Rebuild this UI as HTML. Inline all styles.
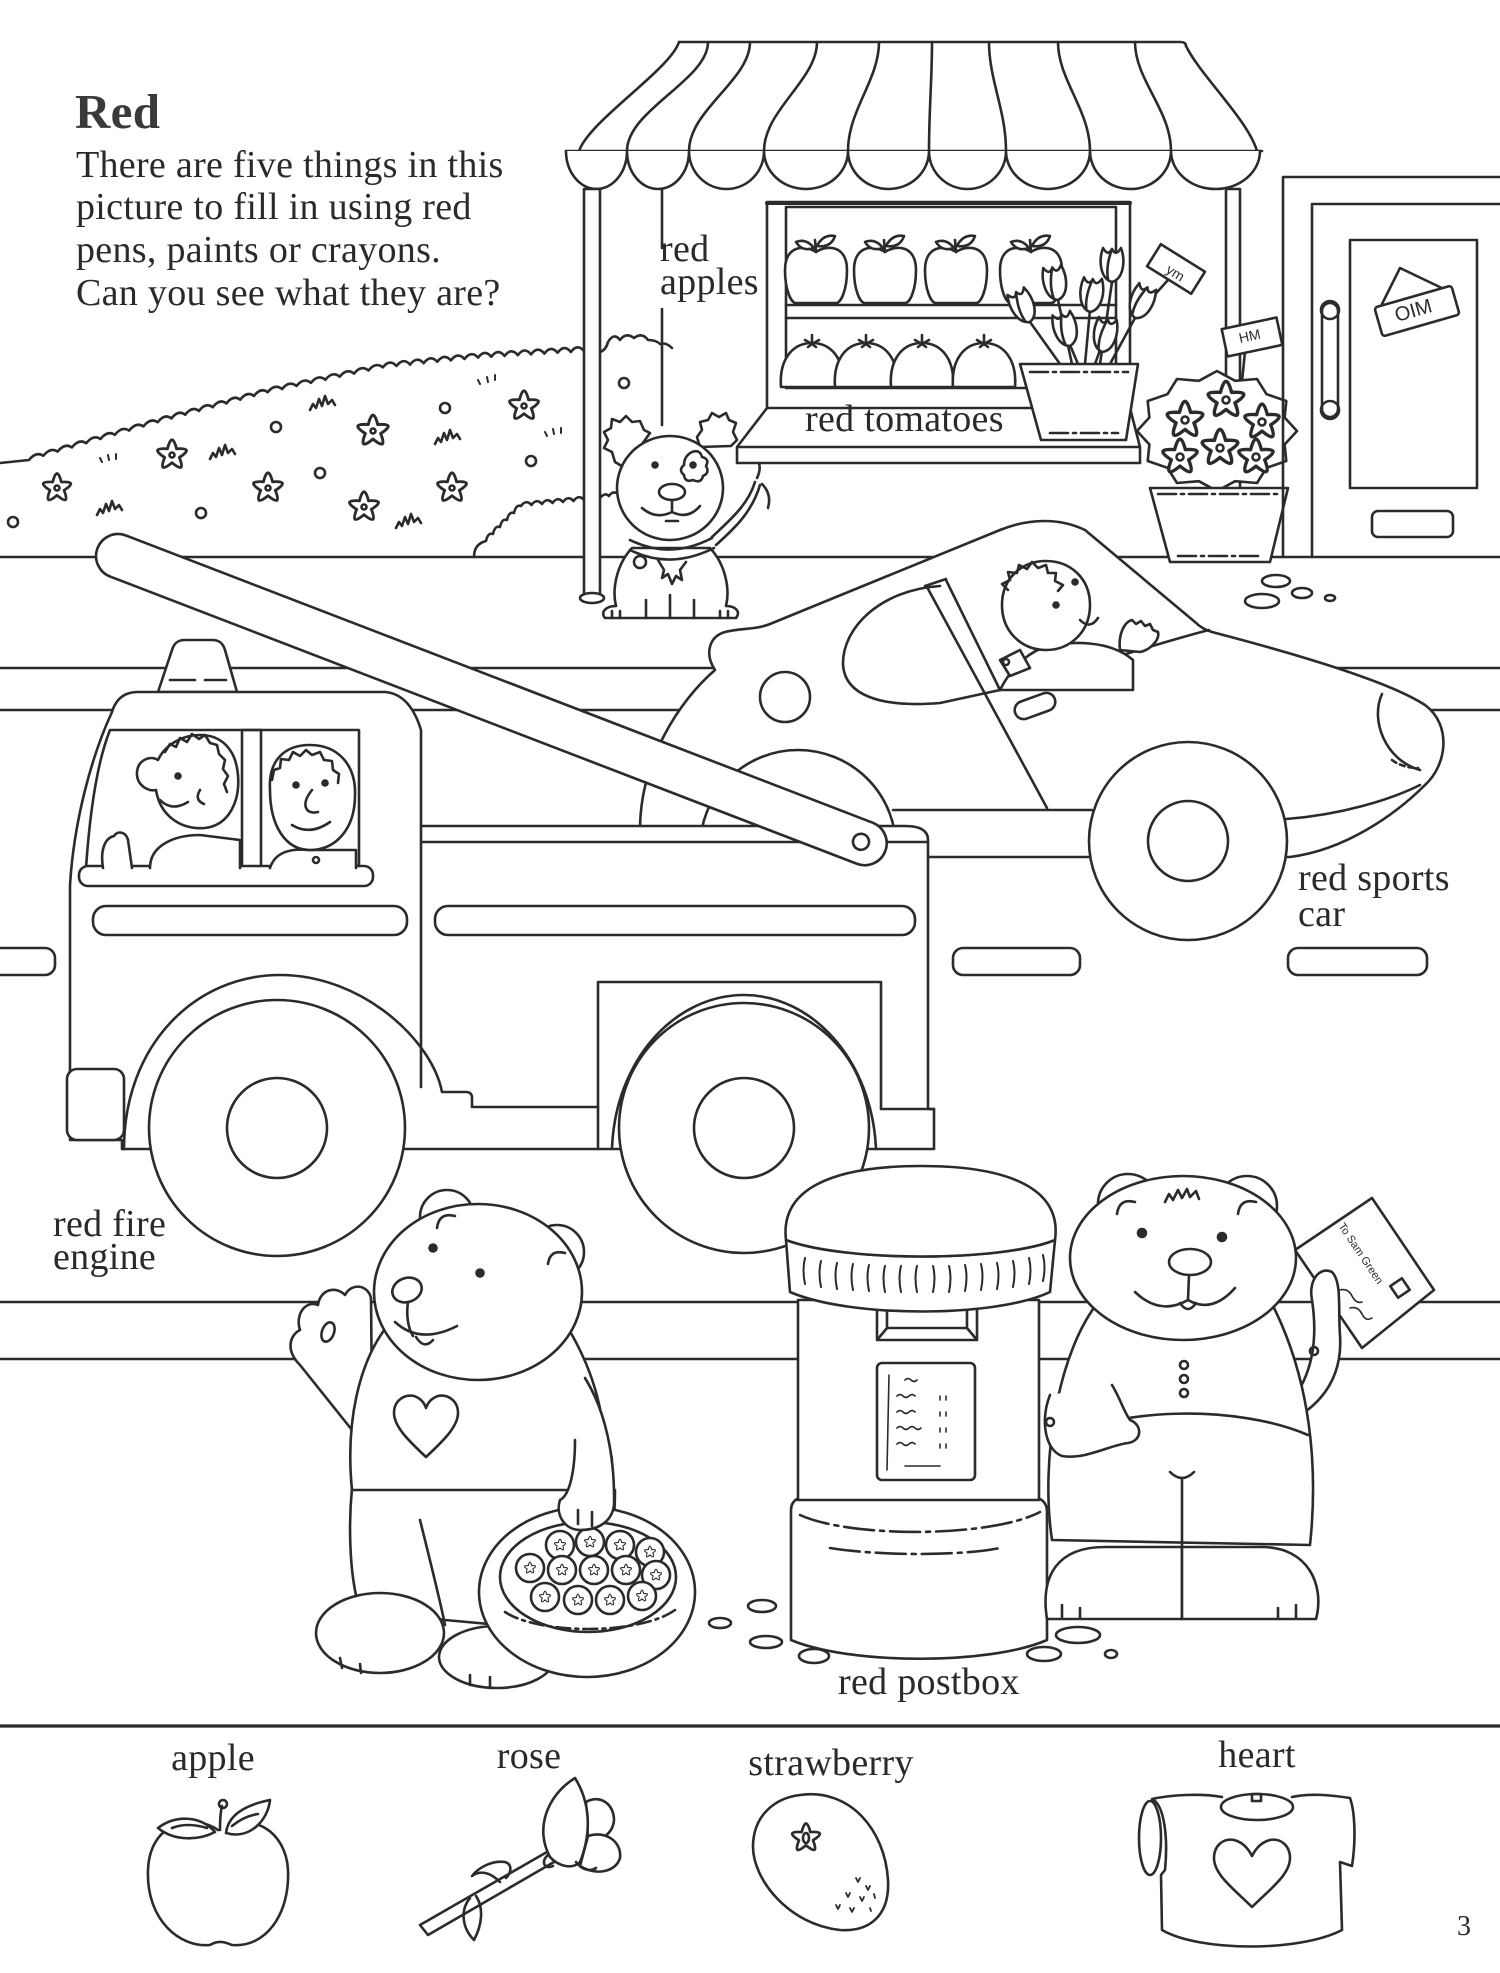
<!DOCTYPE html>
<html><head><meta charset="utf-8">
<style>
html,body{margin:0;padding:0;background:#fff;}
svg{display:block;}
.t{font-family:"Liberation Serif",serif;fill:#2a2a2a;font-size:38px;letter-spacing:0.3px;}
</style></head><body>
<svg width="1500" height="1973" viewBox="0 0 1500 1973" xmlns="http://www.w3.org/2000/svg">
<rect width="1500" height="1973" fill="#fff"/>
<defs>
<path id="fl" d="M4.11,-5.66 Q20.9,-6.8 6.66,2.16 Q12.9,17.8 0,7 Q-12.9,17.8 -6.66,2.16 Q-20.9,-6.8 -4.11,-5.66 Q0,-22 4.11,-5.66 Z"/>
<path id="tu" d="M0,0 C-11,-3 -14,-20 -9,-34 C-6,-29 -3,-27 0,-33 C3,-27 6,-29 9,-34 C14,-20 11,-3 0,0 Z M-4,-3 C-6,-14 -3,-25 0,-33"/>
<path id="gr" d="M-15,4 l3,-6 l3,4 l3,-9 l3,7 l3,-10 l3,8 l4,-4 l3,5"/>
<g id="ap"><path d="M0,-51 C-12,-59 -31,-57 -31,-33 C-31,-13 -25,0 -20,0 L20,0 C25,0 31,-13 31,-33 C31,-57 12,-59 0,-51 Z" fill="#fff"/><path d="M0,-51 L-1,-63 M1,-57 Q7,-69 19,-67 Q15,-55 1,-57 Z M-2,-55 Q-10,-65 -20,-61 Q-14,-51 -2,-55 Z" fill="#fff"/></g>
<g id="to"><path d="M-31,0 C-33,-27 -20,-44 0,-44 C20,-44 33,-27 31,0 Z" fill="#fff"/><path d="M0,-44 L0,-52 M-7,-47 L0,-43 L7,-47 M-4,-40 L0,-43 L4,-40"/></g>
<g id="sb"><circle r="14" fill="#fff"/><use href="#fl" transform="scale(0.42)"/></g>
</defs>

<g fill="none" stroke="#2b2b2b" stroke-width="2.6" stroke-linecap="round" stroke-linejoin="round">

<!-- ground / road lines -->
<path d="M0,557 L1500,557"/>
<path d="M0,668 L1500,668 M0,710 L1500,710"/>
<rect x="-20" y="948" width="75" height="27" rx="10"/>
<rect x="953" y="948" width="127" height="27" rx="10"/>
<rect x="1288" y="948" width="139" height="27" rx="10"/>
<path d="M0,1302 L1500,1302 M0,1359 L1500,1359"/>
<path d="M0,1726 L1500,1726" stroke-width="3.2"/>

<!-- bushes -->
<path d="M0,463 L29,460 q7.2,-9 14.3,-4.2 q7.2,-9 14.3,-4.2 q7.2,-9 14.3,-4.2 q7.2,-9 14.3,-4.2 q7.2,-9 14.3,-4.2 q7.2,-9 14.3,-4.2 q7.2,-9 14.3,-4.2 q7.2,-9 14.3,-4.2 q7.2,-9 14.3,-4.2 q6.9,-9 13.75,-3.75 q6.9,-9 13.75,-3.75 q6.9,-9 13.75,-3.75 q6.9,-9 13.75,-3.75 q6.9,-9 13.75,-3.75 q6.9,-9 13.75,-3.75 q6.9,-9 13.75,-3.75 q6.9,-9 13.75,-3.75 q7.2,-9 14.4,-3.1 q7.2,-9 14.4,-3.1 q7.2,-9 14.4,-3.1 q7.2,-9 14.4,-3.1 q7.2,-9 14.4,-3.1 q7.2,-9 14.4,-3.1 q7.2,-9 14.4,-3.1 q7.2,-9 14.4,-3.1 q6.8,-9 13.6,-1.4 q6.8,-9 13.6,-1.4 q6.8,-9 13.6,-1.4 q6.8,-9 13.6,-1.4 q6.8,-9 13.6,-1.4 q6.8,-9 13.6,-1.4 q6.8,-9 13.6,-1.4 q6.6,-9 13.25,-0.8 q6.6,-9 13.25,-0.8 q6.6,-9 13.25,-0.8 q6.6,-9 13.25,-0.8 q6.6,-9 13.25,-0.8 q6.6,-9 13.25,-0.8 q6.6,-9 13.25,-0.8 q6.6,-9 13.25,-0.8"/>
<path d="M474,557 C474,548 478,543 486,541 q2,-9 7,-7 q2,-9 7,-7 q2,-9 7,-7 q2,-9 7,-7 q2,-9 7,-7 q5,-7 10.5,-1 q5,-7 10.5,-1 q5,-7 10.5,-1 q5,-7 10.5,-1 q5,-7 10.5,-1 q5,-7 10.5,-1"/>
<path d="M600,498 q5,-6 9,-2 q4,-6 9,-2"/>
<path d="M600,352 q6,-2 8,-10 q6,-10 12,-2 q6,-8 14,-2 q8,-6 14,2 q8,0 12,4 q6,-2 12,4"/>
<g>
<use href="#fl" transform="translate(57,488) scale(1.05)"/><circle cx="57" cy="488" r="2.5"/>
<use href="#fl" transform="translate(172,455) scale(1.1)"/><circle cx="172" cy="455" r="2.5"/>
<use href="#fl" transform="translate(268,488) scale(1.1)"/><circle cx="268" cy="488" r="2.5"/>
<use href="#fl" transform="translate(373,431) scale(1.15)"/><circle cx="373" cy="431" r="2.5"/>
<use href="#fl" transform="translate(364,507) scale(1.1)"/><circle cx="364" cy="507" r="2.5"/>
<use href="#fl" transform="translate(452,488) scale(1.1)"/><circle cx="452" cy="488" r="2.5"/>
<use href="#fl" transform="translate(524,406) scale(1.1)"/><circle cx="524" cy="406" r="2.5"/>
</g>
<circle cx="13" cy="522" r="5"/><circle cx="201" cy="513" r="5"/><circle cx="276" cy="427" r="5"/><circle cx="320" cy="473" r="5"/><circle cx="445" cy="408" r="5"/><circle cx="531" cy="461" r="5"/><circle cx="624" cy="383" r="5"/>
<use href="#gr" x="112" y="511"/><use href="#gr" x="225" y="455"/><use href="#gr" x="325" y="406"/><use href="#gr" x="450" y="440"/><use href="#gr" x="411" y="524"/>
<path d="M100,458 l2,4 M108,455 l1,5 M116,454 l0,5 M478,380 l2,4 M487,377 l1,5 M495,375 l0,5 M545,432 l2,4 M553,429 l1,5 M561,428 l0,5" stroke-width="2"/>

<!-- awning -->
<path d="M679,42 L1180,42 Q1186,42 1186,46"/>
<path d="M679,42 C670,70 590,120 579,151"/>
<path d="M1186,46 C1200,75 1248,120 1257,151"/>
<path d="M708,42 C708,80 627,110 627,151 M750,42 C750,80 689,110 689,151 M817,42 C817,80 764,110 764,151 M879,42 C879,80 848,110 848,151 M932,42 C932,80 929,110 929,151 M989,42 C989,80 1006,110 1006,151 M1058,42 C1058,80 1090,110 1090,151 M1135,42 C1135,80 1171,110 1171,151"/>
<path d="M566,151 L1262,151"/>
<path d="M566,151 A30.5,38 0 0 0 627,151 A31,38 0 0 0 689,151 A37.5,38 0 0 0 764,151 A42,38 0 0 0 848,151 A40.5,38 0 0 0 929,151 A38.5,38 0 0 0 1006,151 A42,38 0 0 0 1090,151 A40.5,38 0 0 0 1171,151 A44.5,38 0 0 0 1260,151" fill="#fff"/>

<!-- shop front -->
<path d="M662,190 L662,248 M662,309 L662,425"/>
<rect x="584" y="189" width="16" height="406" fill="#fff"/>
<ellipse cx="592" cy="598" rx="12" ry="5" fill="#fff"/>
<rect x="1226" y="189" width="14" height="360" fill="#fff"/>
<rect x="767" y="202" width="363" height="206" fill="#fff"/>
<rect x="786" y="207" width="330" height="181"/>
<path d="M767,203 L1130,203" stroke-width="4"/>
<path d="M786,305 L1116,305 M786,318 L1116,318"/>
<path d="M767,408 L737,447 L1140,447 L1130,408 M737,447 L737,463 L1140,463 L1140,447"/>
<use href="#ap" x="816" y="303"/><use href="#ap" x="885" y="303"/><use href="#ap" x="956" y="303"/><use href="#ap" x="1031" y="303"/>
<use href="#to" x="812" y="387"/><use href="#to" x="866" y="387"/><use href="#to" x="922" y="387"/><use href="#to" x="984" y="387"/>

<!-- tulips -->
<path d="M1030,322 L1060,364 M1058,300 L1072,364 M1090,310 L1085,364 M1112,282 L1100,364 M1135,318 L1110,364 M1100,350 L1095,364 M1070,345 L1078,364"/>
<path d="M1150,300 L1168,280"/>
<g fill="#fff">
<use href="#tu" transform="translate(1030,322) rotate(-25)"/>
<use href="#tu" transform="translate(1058,300) rotate(-10)"/>
<use href="#tu" transform="translate(1112,282)"/>
<use href="#tu" transform="translate(1090,312) rotate(5)"/>
<use href="#tu" transform="translate(1135,318) rotate(22)"/>
<use href="#tu" transform="translate(1070,346) rotate(-15)"/>
<use href="#tu" transform="translate(1102,352) rotate(10)"/>
</g>
<path d="M1020,364 L1138,364 L1126,440 L1041,440 Z" fill="#fff"/>
<path d="M1030,372 L1128,372 M1050,433 L1118,433" stroke-dasharray="18 5 3 5"/>
<g transform="translate(1176,269) rotate(32)"><rect x="-26" y="-13" width="52" height="26" fill="#fff"/></g>
<text x="0" y="0" transform="translate(1165,272) rotate(32)" font-family="Liberation Sans,sans-serif" font-size="14" fill="#2b2b2b" stroke="none">ym</text>

<!-- right flower pot -->
<path d="M1245,352 L1238,420"/>
<g transform="translate(1252,337) rotate(-12)"><rect x="-28" y="-14" width="56" height="28" fill="#fff"/></g>
<text x="0" y="0" transform="translate(1240,343) rotate(-12)" font-family="Liberation Sans,sans-serif" font-size="14" fill="#2b2b2b" stroke="none">HM</text>
<path d="M1297,431 L1284.6,444.5 L1286.3,461 L1266.5,467.8 L1257,483 L1235.1,481.2 L1217,491 L1198.9,481.2 L1177,483 L1167.5,467.8 L1147.7,461 L1149.4,444.5 L1137,431 L1149.4,417.5 L1147.7,401 L1167.5,394.2 L1177,379 L1198.9,380.8 L1217,371 L1235.1,380.8 L1257,379 L1266.5,394.2 L1286.3,401 L1284.6,417.5 Z" fill="#fff"/>
<g fill="#fff">
<use href="#fl" transform="translate(1185,420) scale(1.35)"/><use href="#fl" transform="translate(1226,400) scale(1.35)"/><use href="#fl" transform="translate(1262,422) scale(1.3)"/><use href="#fl" transform="translate(1180,457) scale(1.3)"/><use href="#fl" transform="translate(1220,448) scale(1.35)"/><use href="#fl" transform="translate(1256,457) scale(1.3)"/>
</g>
<circle cx="1185" cy="420" r="3.5"/><circle cx="1226" cy="400" r="3.5"/><circle cx="1262" cy="422" r="3.5"/><circle cx="1180" cy="457" r="3.5"/><circle cx="1220" cy="448" r="3.5"/><circle cx="1256" cy="457" r="3.5"/>
<path d="M1150,488 L1288,488 L1270,562 L1170,562 Z" fill="#fff"/>
<path d="M1158,494 L1280,494 M1178,556 L1262,556" stroke-dasharray="18 5 3 5"/>

<!-- door -->
<path d="M1283,557 L1283,177 L1500,177 M1312,557 L1312,204 L1500,204"/>
<rect x="1350" y="240" width="127" height="248"/>
<rect x="1322" y="303" width="16" height="114" rx="8"/>
<circle cx="1330" cy="310" r="9"/><circle cx="1330" cy="410" r="9"/>
<rect x="1372" y="511" width="81" height="26" rx="6"/>
<path d="M1382,304 L1400,268 L1446,290"/>
<g transform="translate(1417,311) rotate(-16)"><rect x="-40" y="-15" width="80" height="30" rx="3" fill="#fff"/></g>
<text x="0" y="0" transform="translate(1397,322) rotate(-16)" font-family="Liberation Sans,sans-serif" font-size="20" fill="#2b2b2b" stroke="none">OIM</text>
<ellipse cx="1276" cy="581" rx="14" ry="6"/><ellipse cx="1302" cy="593" rx="10" ry="5"/><ellipse cx="1330" cy="598" rx="5" ry="3"/><ellipse cx="1262" cy="601" rx="17" ry="7"/>

<!-- dog -->
<path d="M712,537 C730,520 748,505 755,482 M716,545 C735,528 752,512 760,485 M757,478 q4,-8 2,-15 M762,484 q10,10 6,24"/>
<path d="M625,468 L615,462 L612,452 L604,448 L608,440 L604,432 L611,428 L612,419 L620,422 L626,416 L632,422 L640,421 L644,430 L650,433 Z" fill="#fff"/>
<path d="M700,447 L697,437 L702,430 L700,422 L708,420 L712,413 L719,417 L726,413 L729,420 L736,423 L733,432 L737,440 L731,446 Z" fill="#fff"/>
<path d="M632,548 C616,565 612,590 616,606 C606,606 600,612 605,618 L736,618 C741,612 736,606 726,606 C730,590 726,565 710,548 Z" fill="#fff"/>
<path d="M646,600 L646,618 M694,600 L694,618 M670,595 L670,618 M612,611 l0,6 M620,611 l0,6 M720,611 l0,6 M728,611 l0,6"/>
<ellipse cx="670" cy="488" rx="53" ry="52" fill="#fff"/>
<circle cx="655" cy="465" r="2.5" fill="#2b2b2b"/>
<path d="M692,452 q8,-3 10,5 q8,2 4,9 q4,7 -3,10 q-2,8 -10,4 q-8,3 -9,-5 q-6,-5 0,-10 q0,-9 8,-13 Z"/>
<circle cx="693" cy="465" r="2.5" fill="#2b2b2b"/>
<ellipse cx="672" cy="492" rx="13" ry="8"/>
<path d="M672,500 L672,512 M642,508 Q656,520 672,512 Q688,520 700,506 M666,521 L678,521"/>
<path d="M630,540 Q670,560 712,538 M630,550 Q670,570 714,548"/>
<circle cx="640" cy="562" r="6" fill="#fff"/>
<path d="M658,560 l6,10 l-2,8 l6,-4 l4,10 l4,-8 l6,4 l-2,-10 l6,-8"/>

<!-- sports car -->
<path d="M640,830 C640,760 680,700 715,670 C705,655 708,637 725,632 C740,628 755,630 770,624 L1000,530 C1030,518 1060,518 1085,530 L1195,622 C1200,627 1205,630 1212,632 C1300,655 1390,682 1425,705 C1452,725 1447,765 1425,785 C1395,815 1345,850 1290,857 L893,857 L893,830 Z" fill="#fff"/>
<path d="M893,810 L1092,810 M1286,819 C1340,815 1390,800 1420,785"/>
<path d="M1382,694 C1370,720 1385,760 1420,770"/>
<path d="M1392,760 C1400,766 1410,768 1418,768" stroke-dasharray="5 4"/>
<circle cx="785" cy="697" r="25"/>
<path d="M940,586 C880,590 842,628 843,665 C845,695 880,708 940,703 L1000,690 C1080,670 1150,645 1209,630"/>
<path d="M927,587 L1047,808 M946,580 L1000,690 M925,586 L946,579"/>
<g transform="translate(1035,706) rotate(-20)"><rect x="-21" y="-9" width="42" height="18" rx="9"/></g>
<!-- driver -->
<path d="M1042,648 C1070,640 1110,640 1133,660 L1133,690 L1000,690 C1010,670 1025,655 1042,648 Z" fill="#fff"/>
<path d="M1000,660 L1020,650 L1030,668 L1010,676 Z" fill="#fff"/>
<circle cx="1006" cy="662" r="3"/>
<path d="M1046,561 C1070,561 1090,578 1090,605 C1090,632 1070,650 1046,650 C1022,650 1002,632 1002,605 C1002,578 1022,561 1046,561 Z" fill="#fff"/>
<path d="M1008,590 l-6,-6 l8,-4 l-2,-8 l9,1 l2,-8 l8,4 l5,-7 l6,6 l8,-3 l2,8 l8,0 l-1,8 l8,4 l-5,6" />
<circle cx="1075" cy="582" r="2.5" fill="#2b2b2b"/><circle cx="1056" cy="605" r="2.5" fill="#2b2b2b"/>
<path d="M1080,620 Q1090,630 1098,618"/>
<path d="M1120,650 C1118,635 1124,622 1132,620 l4,4 l5,-3 l4,5 l5,-2 l3,6 l5,2 C1160,640 1150,650 1140,652 Z" fill="#fff"/>
<!-- car wheels -->
<circle cx="798" cy="848" r="98" fill="#fff"/>
<circle cx="1188" cy="841" r="99" fill="#fff"/>
<circle cx="1188" cy="841" r="40"/>

<!-- fire engine -->
<path d="M158,692 L172,650 C174,643 178,640 185,640 L212,640 C219,640 223,643 225,650 L237,692 Z" fill="#fff"/>
<path d="M170,680 L195,680 M205,680 L226,680"/>
<path d="M70,1140 L70,885 C74,820 92,755 112,712 Q118,692 138,692 L385,692 Q410,694 421,730 L421,826 L905,826 Q928,826 928,840 L928,1109 L934,1109 L934,1149 L122,1149 L122,1140 Z" fill="#fff"/>
<rect x="67" y="1069" width="57" height="71" rx="10" fill="#fff"/>
<path d="M421,826 L421,1087 M421,842 L928,842"/>
<path d="M110,730 L359,730 L359,868 L86,868 C90,810 98,760 110,730 Z"/>
<rect x="242" y="730" width="19" height="138"/>
<rect x="79" y="866" width="294" height="20" rx="9" fill="#fff"/>
<rect x="93" y="906" width="314" height="29" rx="13"/>
<rect x="435" y="906" width="480" height="29" rx="13"/>
<path d="M598,1149 L598,982 L881,982 L881,1109 L934,1109"/>
<path d="M124,1149 C124,1045 195,975 280,975 C362,975 432,1040 442,1092 L466,1092 Q472,1092 472,1098 L472,1107 L598,1107"/>
<path d="M612,1149 C615,1060 675,995 744,995 C812,995 872,1060 876,1149"/>
<circle cx="277" cy="1128" r="128" fill="#fff"/>
<circle cx="277" cy="1128" r="50"/>
<circle cx="744" cy="1128" r="125" fill="#fff"/>
<circle cx="744" cy="1128" r="50"/>
<!-- firemen -->
<path d="M150,868 C150,845 175,835 200,835 L240,840 L240,868" fill="#fff"/>
<path d="M103,868 C100,850 105,838 114,836 C118,830 126,832 128,840 L132,868" fill="#fff"/>
<path d="M158,760 C150,755 138,760 137,772 C136,785 148,792 156,790 C160,815 180,830 205,828 C230,825 240,800 238,775 C236,750 222,735 200,735 C182,735 165,745 158,760 Z" fill="#fff"/>
<path d="M165,752 l5,-8 l6,3 l4,-9 l7,4 l5,-8 l7,5 l6,-4 l5,8 l7,2 l2,9 l6,6 l-2,9 l5,7 l-4,8 l3,8"/>
<circle cx="178" cy="776" r="2.5" fill="#2b2b2b"/>
<path d="M160,800 Q172,812 188,802 M200,790 q-6,10 4,14"/>
<path d="M270,868 C275,852 290,848 310,850 L356,850 L356,868" fill="#fff"/>
<path d="M270,790 C268,760 285,745 310,745 C338,745 356,765 355,795 C355,830 335,850 310,850 C285,850 270,825 270,790 Z" fill="#fff"/>
<path d="M272,780 l2,-10 l6,-2 l1,-9 l8,1 l4,-8 l7,4 l6,-6 l6,5 l8,-3 l4,8 l8,1 l1,9 l6,4 l-1,9"/>
<circle cx="296" cy="785" r="2.5" fill="#2b2b2b"/><circle cx="325" cy="783" r="2.5" fill="#2b2b2b"/>
<path d="M312,790 C300,805 306,815 318,812 M292,825 Q310,836 330,822"/>
<circle cx="316" cy="860" r="3"/>
<!-- ladder -->
<g transform="translate(105,551) rotate(21.04)">
<rect x="-8" y="-22" width="844" height="44" rx="22" fill="#fff"/>
<circle cx="810" cy="0" r="8"/>
</g>

<!-- left bear -->
<path d="M352,1430 L300,1365 C285,1350 290,1335 300,1330 C295,1315 305,1300 318,1305 C320,1290 335,1285 345,1295 C352,1282 368,1285 371,1298 L372,1400 Z" fill="#fff"/>
<ellipse cx="328" cy="1332" rx="6" ry="10" transform="rotate(20 328 1332)"/>
<path d="M352,1488 C348,1530 350,1580 360,1610 L445,1620 L555,1630 C590,1615 615,1570 615,1490 Z" fill="#fff"/>
<path d="M420,1520 C430,1560 440,1600 445,1625"/>
<path d="M388,1325 C360,1360 345,1420 352,1490 L600,1490 C610,1450 605,1390 568,1328 Z" fill="#fff"/>
<path d="M590,1440 C600,1438 610,1445 612,1460"/>
<path d="M426,1457 C410,1442 394,1427 394,1413 C394,1400 405,1394 414,1396 C420,1398 424,1402 426,1408 C428,1402 432,1398 438,1396 C447,1394 458,1400 458,1413 C458,1427 442,1442 426,1457 Z"/>
<ellipse cx="380" cy="1633" rx="64" ry="40" fill="#fff"/>
<ellipse cx="497" cy="1657" rx="58" ry="31" fill="#fff"/>
<path d="M340,1658 l2,10 M360,1664 l1,9 M470,1675 l0,10 M490,1677 l0,10"/>
<circle cx="447" cy="1217" r="27" fill="#fff"/><circle cx="557" cy="1252" r="27" fill="#fff"/>
<ellipse cx="478" cy="1292" rx="104" ry="88" fill="#fff"/>
<path d="M437,1228 q2,-16 18,-12 M548,1264 q2,-15 17,-11"/>
<circle cx="433" cy="1248" r="3.5" fill="#2b2b2b"/><circle cx="480" cy="1273" r="3.5" fill="#2b2b2b"/>
<ellipse cx="407" cy="1290" rx="15" ry="12" transform="rotate(-20 407 1290)"/>
<path d="M408,1302 C406,1315 408,1328 413,1336 M395,1322 Q420,1345 457,1326 M416,1337 Q424,1350 433,1340"/>
<!-- basket -->
<ellipse cx="587" cy="1592" rx="108" ry="85" fill="#fff"/>
<ellipse cx="588" cy="1577" rx="88" ry="55" fill="#fff"/>
<use href="#sb" x="560" y="1545"/><use href="#sb" x="590" y="1542"/><use href="#sb" x="620" y="1545"/><use href="#sb" x="650" y="1552"/>
<use href="#sb" x="530" y="1568"/><use href="#sb" x="562" y="1570"/><use href="#sb" x="594" y="1570"/><use href="#sb" x="626" y="1570"/><use href="#sb" x="656" y="1575"/>
<use href="#sb" x="545" y="1597"/><use href="#sb" x="578" y="1600"/><use href="#sb" x="610" y="1600"/><use href="#sb" x="642" y="1596"/>
<path d="M505,1612 C540,1635 640,1635 675,1610" stroke-dasharray="14 5 3 5"/>
<path d="M585,1378 C605,1410 615,1455 614,1505 C612,1522 598,1530 580,1530 C565,1530 555,1515 560,1500 C570,1495 575,1470 575,1440" fill="#fff"/>
<path d="M578,1510 l0,14 M592,1512 l0,14"/>

<!-- postbox -->
<ellipse cx="762" cy="1606" rx="14" ry="6"/><ellipse cx="766" cy="1642" rx="16" ry="6"/><ellipse cx="814" cy="1656" rx="15" ry="7"/><ellipse cx="720" cy="1623" rx="11" ry="5"/>
<ellipse cx="1044" cy="1654" rx="17" ry="7"/><ellipse cx="1078" cy="1635" rx="22" ry="8"/><ellipse cx="1111" cy="1654" rx="6" ry="4"/>
<path d="M791,1510 C791,1500 800,1495 812,1497 L1030,1497 C1042,1497 1047,1503 1047,1512 L1047,1640 C990,1665 850,1665 791,1640 Z" fill="#fff"/>
<path d="M800,1515 C850,1538 990,1538 1040,1512" stroke-dasharray="30 6 4 6"/>
<path d="M830,1548 C880,1556 960,1556 1000,1548" stroke-dasharray="30 6 4 6"/>
<rect x="798" y="1300" width="241" height="200" fill="#fff"/>
<path d="M877,1300 L877,1340 L977,1340 L977,1300 M877,1340 L887,1328 L967,1328 L977,1340 M887,1328 L887,1306 M967,1328 L967,1306"/>
<rect x="877" y="1363" width="98" height="117" rx="5" fill="#fff"/>
<path d="M889,1375 L887,1470 M905,1380 q3,-3 6,0 q3,3 6,0 M897,1396 q3,-3 6,0 q3,3 6,0 q3,-3 6,0 M940,1396 l0,4 M946,1396 l0,4 M897,1412 q3,-3 6,0 q3,3 6,0 q3,-3 6,0 M940,1412 l0,4 M946,1412 l0,4 M897,1428 q3,-3 6,0 q3,3 6,0 q3,-3 6,0 q3,3 6,0 M940,1428 l0,4 M946,1428 l0,4 M897,1444 q3,-3 6,0 q3,3 6,0 q3,-3 6,0 M940,1444 l0,4 M946,1444 l0,4 M905,1466 L940,1466" stroke-width="1.6"/>
<path d="M786,1240 L790,1292 C850,1318 995,1318 1050,1292 L1055,1240 C1000,1262 845,1262 786,1240 Z" fill="#fff"/>
<path d="M805,1258 q-3,12 0,26 M821,1261 q-3,12 0,26 M837,1263 q-3,12 0,26 M853,1264 q-3,12 0,26 M869,1265 q-3,12 0,26 M885,1266 q-3,12 0,26 M901,1266 q-3,12 0,26 M917,1266 q-3,12 0,26 M933,1266 q3,12 0,26 M949,1266 q3,12 0,26 M965,1265 q3,12 0,26 M981,1264 q3,12 0,26 M997,1263 q3,12 0,26 M1013,1261 q3,12 0,26 M1029,1258 q3,12 0,26 M1043,1255 q3,12 0,26" stroke-width="2"/>
<path d="M786,1240 C780,1190 830,1166 921,1166 C1012,1166 1062,1190 1055,1240 C1000,1262 845,1262 786,1240 Z" fill="#fff"/>

<!-- right bear -->
<path d="M1295,1250 L1372,1198 L1434,1290 L1362,1348 Z" fill="#fff"/>
<g transform="translate(1400,1288) rotate(-34)"><rect x="-7" y="-7" width="14" height="14"/></g>
<path d="M1340,1290 q8,-2 12,6 q4,8 10,6 M1350,1308 q8,-2 12,6 q4,8 10,4" stroke-width="1.6"/>
<path d="M1296,1395 C1312,1370 1318,1340 1312,1300 C1308,1280 1320,1266 1332,1272 C1342,1282 1338,1310 1340,1335 C1342,1365 1332,1392 1305,1412 Z" fill="#fff"/>
<path d="M1100,1300 C1058,1350 1040,1460 1052,1540 L1310,1545 C1318,1470 1312,1380 1270,1300 Z" fill="#fff"/>
<circle cx="1314" cy="1351" r="4"/>
<path d="M1052,1445 C1110,1405 1240,1405 1308,1435"/>
<circle cx="1184" cy="1365" r="4"/><circle cx="1184" cy="1379" r="4"/><circle cx="1184" cy="1393" r="4"/>
<path d="M1050,1395 C1040,1420 1045,1450 1062,1456 C1085,1460 1110,1445 1128,1443 C1142,1441 1143,1425 1130,1420 C1124,1412 1120,1398 1112,1385" fill="#fff"/>
<circle cx="1050" cy="1422" r="4"/>
<path d="M1182,1547 L1182,1480 M1170,1472 Q1182,1484 1194,1472"/>
<path d="M1047,1619 C1040,1575 1058,1547 1105,1547 L1182,1547 L1182,1619 Z" fill="#fff"/>
<path d="M1182,1619 L1182,1547 L1262,1547 C1308,1547 1325,1585 1316,1619 Z" fill="#fff"/>
<path d="M1062,1605 l0,12 M1080,1608 l0,10 M1296,1605 l0,12 M1278,1608 l0,10"/>
<circle cx="1128" cy="1204" r="30" fill="#fff"/><circle cx="1247" cy="1206" r="30" fill="#fff"/>
<ellipse cx="1183" cy="1258" rx="113" ry="82" fill="#fff"/>
<path d="M1117,1214 q2,-16 18,-12 M1238,1214 q2,-16 18,-12"/>
<path d="M1165,1202 l4,-8 l4,6 l5,-10 l4,8 l5,-9 l3,8 l6,-6 l3,8"/>
<circle cx="1142" cy="1233" r="4" fill="#2b2b2b"/><circle cx="1222" cy="1237" r="4" fill="#2b2b2b"/>
<ellipse cx="1190" cy="1262" rx="21" ry="13"/>
<path d="M1189,1275 L1188,1300 M1135,1292 Q1160,1316 1188,1300 Q1212,1314 1235,1288 M1180,1303 Q1188,1315 1196,1303"/>

<!-- bottom icons -->
<path d="M218,1830 C198,1815 150,1818 148,1870 C146,1920 180,1948 210,1945 C218,1940 225,1942 232,1945 C265,1948 290,1915 288,1870 C286,1830 250,1812 228,1830"/>
<path d="M220,1830 C220,1818 221,1810 222,1806"/>
<circle cx="223" cy="1804" r="4"/>
<path d="M215,1832 C200,1815 175,1815 158,1828 C175,1842 200,1840 215,1832 Z M172,1828 q15,-6 35,0" fill="#fff"/>
<path d="M226,1833 C228,1815 245,1805 270,1800 C268,1820 250,1840 226,1833 Z M232,1826 q12,-10 26,-12" fill="#fff"/>
<path d="M420,1925 L547,1852 M428,1935 L554,1862 M420,1925 L428,1935"/>
<path d="M470,1898 C460,1910 462,1928 474,1940 C482,1925 484,1908 476,1896"/>
<path d="M500,1882 C490,1872 480,1870 472,1876 C478,1868 492,1860 505,1862 C512,1864 512,1872 506,1878"/>
<path d="M586,1802 C600,1794 614,1804 614,1820 C613,1834 600,1842 588,1840 Z" fill="#fff"/>
<path d="M588,1836 C606,1830 622,1842 620,1858 C616,1872 596,1876 580,1866 Z" fill="#fff"/>
<path d="M550,1857 C535,1830 546,1796 575,1778 C590,1802 592,1832 580,1862 C572,1870 558,1866 550,1857 Z" fill="#fff"/>
<path d="M548,1855 C540,1862 545,1870 553,1866 M576,1862 C582,1870 590,1872 596,1868"/>
<path d="M800,1795 C850,1788 885,1830 888,1880 C890,1915 870,1932 840,1930 C790,1925 752,1880 753,1845 C754,1815 775,1798 800,1795 Z"/>
<use href="#fl" transform="translate(806,1838) scale(1.05)"/><ellipse cx="806" cy="1838" rx="3" ry="5"/>
<path d="M856,1878 l2,4 l2,-4 M866,1886 l2,4 l2,-4 M846,1893 l2,4 l2,-4 M860,1897 l2,4 l2,-4 M874,1894 l1,4 M836,1905 l2,4 l2,-4 M850,1908 l2,4 l2,-4 M870,1908 l1,3" stroke-width="1.8"/>
<path d="M1222,1797 C1200,1793 1170,1795 1152,1799 C1165,1805 1168,1840 1165,1870 L1161,1875 L1162,1930 C1200,1952 1300,1952 1342,1930 L1340,1862 L1352,1866 C1356,1840 1355,1812 1350,1798 C1330,1795 1310,1793 1292,1797"/>
<ellipse cx="1150" cy="1838" rx="11" ry="37" fill="#fff"/>
<ellipse cx="1257" cy="1807" rx="36" ry="13" fill="#fff"/>
<rect x="1252" y="1794" width="9" height="7"/>
<path d="M1252,1907 C1235,1890 1214,1875 1214,1858 C1214,1845 1224,1838 1234,1840 C1242,1842 1248,1848 1252,1856 C1256,1848 1262,1842 1270,1840 C1280,1838 1290,1845 1290,1858 C1290,1875 1269,1890 1252,1907 Z"/>
</g>

<!-- text -->
<text x="75" y="128" font-family="Liberation Serif,serif" font-weight="bold" font-size="49" fill="#3a3a3a" letter-spacing="0.3">Red</text>
<text class="t" x="76" y="177">There are five things in this</text>
<text class="t" x="76" y="219">picture to fill in using red</text>
<text class="t" x="76" y="262">pens, paints or crayons.</text>
<text class="t" x="76" y="305">Can you see what they are?</text>
<text class="t" x="660" y="261">red</text>
<text class="t" x="660" y="294">apples</text>
<text class="t" x="805" y="431">red tomatoes</text>
<text class="t" x="1298" y="890">red sports</text>
<text class="t" x="1298" y="926">car</text>
<text class="t" x="53" y="1236">red fire</text>
<text class="t" x="53" y="1269">engine</text>
<text class="t" x="838" y="1694">red postbox</text>
<text class="t" x="213" y="1770" text-anchor="middle">apple</text>
<text class="t" x="529" y="1768" text-anchor="middle">rose</text>
<text class="t" x="831" y="1775" text-anchor="middle">strawberry</text>
<text class="t" x="1257" y="1767" text-anchor="middle">heart</text>
<text x="1457" y="1935" font-family="Liberation Serif,serif" font-size="28" fill="#2a2a2a">3</text>
<text x="0" y="0" transform="translate(1338,1226) rotate(56)" font-family="Liberation Sans,sans-serif" font-size="11" fill="#2b2b2b">To Sam Green</text>
</svg>
</body></html>
